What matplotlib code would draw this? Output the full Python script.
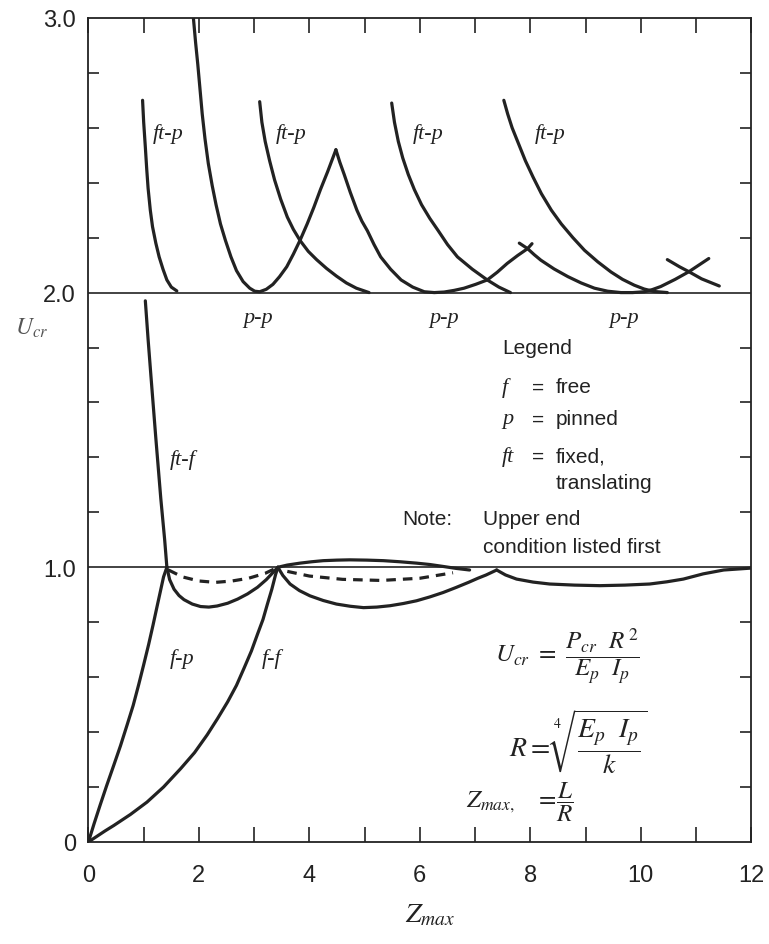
import matplotlib
matplotlib.use("Agg")
import matplotlib.pyplot as plt
from matplotlib.ticker import MultipleLocator, FixedLocator, FixedFormatter

plt.rcParams['mathtext.fontset'] = 'stix'

# ---- upper family (U between 2 and 3) ----
ftp1_z = [0.98, 1.00, 1.03, 1.055, 1.08, 1.12, 1.16, 1.22, 1.28, 1.35, 1.42, 1.50, 1.60]
ftp1_u = [2.70, 2.62, 2.53, 2.45, 2.38, 2.30, 2.24, 2.18, 2.13, 2.085, 2.046, 2.02, 2.006]

pp1_z = [1.90, 1.94, 1.98, 2.02, 2.06, 2.11, 2.17, 2.24, 2.31, 2.39, 2.48, 2.58, 2.68, 2.80,
         2.92, 3.01, 3.10, 3.22, 3.34, 3.46, 3.59, 3.71, 3.83, 3.96, 4.08, 4.20, 4.33, 4.48]
pp1_u = [3.00, 2.91, 2.83, 2.74, 2.65, 2.56, 2.47, 2.39, 2.32, 2.25, 2.19, 2.13, 2.08, 2.04,
         2.016, 2.005, 2.003, 2.012, 2.03, 2.058, 2.094, 2.14, 2.19, 2.25, 2.31, 2.375, 2.44, 2.52]

ftp2_z = [3.10, 3.14, 3.20, 3.28, 3.37, 3.48, 3.60, 3.71, 3.83, 3.98, 4.13, 4.31, 4.49, 4.67, 4.85, 5.08]
ftp2_u = [2.695, 2.62, 2.55, 2.48, 2.41, 2.34, 2.275, 2.23, 2.19, 2.15, 2.12, 2.088, 2.06, 2.035, 2.016, 2.0]

pp2_z = [4.48, 4.55, 4.63, 4.74, 4.86, 4.95, 5.05, 5.17, 5.29, 5.47, 5.66, 5.87, 6.08, 6.26,
         6.44, 6.62, 6.80, 7.01, 7.22, 7.40, 7.58, 7.77, 7.95, 8.03]
pp2_u = [2.52, 2.475, 2.43, 2.365, 2.30, 2.26, 2.225, 2.175, 2.13, 2.085, 2.046, 2.02, 2.003, 2.0,
         2.002, 2.008, 2.016, 2.03, 2.046, 2.074, 2.106, 2.135, 2.16, 2.178]

ftp3_z = [5.49, 5.54, 5.61, 5.69, 5.79, 5.90, 6.03, 6.18, 6.33, 6.50, 6.68, 6.95, 7.22, 7.43, 7.64]
ftp3_u = [2.69, 2.62, 2.55, 2.49, 2.43, 2.375, 2.32, 2.27, 2.226, 2.175, 2.13, 2.085, 2.046, 2.02, 2.0]

pp3_z = [7.80, 7.95, 8.07, 8.19, 8.43, 8.68, 8.92, 9.16, 9.40, 9.64, 9.85, 10.06, 10.21, 10.36,
         10.62, 10.87, 11.05, 11.23]
pp3_u = [2.18, 2.16, 2.138, 2.118, 2.086, 2.058, 2.035, 2.016, 2.005, 2.0, 2.0, 2.003, 2.011, 2.022,
         2.048, 2.076, 2.10, 2.124]

pp4_z = [10.48, 10.70, 10.87, 11.10, 11.42]
pp4_u = [2.12, 2.094, 2.076, 2.05, 2.024]

ftp4_z = [7.52, 7.59, 7.67, 7.79, 7.91, 8.05, 8.20, 8.38, 8.56, 8.77, 8.98, 9.22, 9.46, 9.67,
          9.88, 10.06, 10.24, 10.48]
ftp4_u = [2.70, 2.65, 2.60, 2.54, 2.48, 2.42, 2.36, 2.30, 2.25, 2.20, 2.154, 2.112, 2.075, 2.048,
          2.027, 2.013, 2.004, 2.0]

# ---- lower family (U between 0 and 2) ----
ftf_z = [1.03, 1.08, 1.13, 1.22, 1.31, 1.38, 1.42]
ftf_u = [1.97, 1.83, 1.70, 1.47, 1.25, 1.10, 1.0]

fp_z = [0, 0.10, 0.21, 0.33, 0.46, 0.58, 0.70, 0.81, 0.91, 1.00, 1.09, 1.17, 1.24, 1.30, 1.36, 1.42]
fp_u = [0, 0.065, 0.133, 0.205, 0.28, 0.35, 0.426, 0.497, 0.573, 0.645, 0.719, 0.79, 0.855, 0.91, 0.965, 1.0]

ff_z = [0, 0.15, 0.30, 0.46, 0.76, 1.06, 1.36, 1.67, 1.92, 2.15, 2.34, 2.52, 2.68, 2.82, 2.95,
        3.06, 3.16, 3.24, 3.32, 3.39, 3.43]
ff_u = [0, 0.02, 0.04, 0.06, 0.10, 0.145, 0.20, 0.267, 0.325, 0.39, 0.45, 0.51, 0.57, 0.634, 0.695,
        0.756, 0.81, 0.866, 0.92, 0.975, 1.0]

dip1_z = [1.42, 1.47, 1.55, 1.64, 1.73, 1.88, 2.03, 2.18, 2.33, 2.52, 2.70, 2.88, 3.06, 3.22, 3.36, 3.43]
dip1_u = [1.0, 0.955, 0.92, 0.897, 0.882, 0.866, 0.857, 0.855, 0.859, 0.869, 0.884, 0.903, 0.927,
          0.955, 0.985, 1.0]

dash1_z = [1.45, 1.7, 2.0, 2.3, 2.6, 2.9, 3.2, 3.43]
dash1_u = [0.99, 0.965, 0.950, 0.945, 0.950, 0.960, 0.978, 1.0]

bump_z = [3.43, 3.60, 3.83, 4.04, 4.25, 4.50, 4.73, 5.04, 5.34, 5.64, 5.94, 6.18, 6.42, 6.65, 6.90]
bump_u = [1.0, 1.008, 1.015, 1.02, 1.024, 1.026, 1.027, 1.026, 1.024, 1.02, 1.015, 1.01, 1.003, 0.996, 0.99]

dip2_z = [3.43, 3.52, 3.65, 3.82, 4.01, 4.25, 4.49, 4.74, 4.98, 5.22, 5.46, 5.70, 5.94, 6.18,
          6.42, 6.65, 6.88, 7.05, 7.20, 7.39]
dip2_u = [1.0, 0.97, 0.939, 0.915, 0.896, 0.879, 0.866, 0.858, 0.853, 0.855, 0.86, 0.868, 0.878,
          0.892, 0.908, 0.926, 0.945, 0.96, 0.972, 0.99]

dash2_z = [3.6, 4.0, 4.6, 5.3, 6.0, 6.6]
dash2_u = [0.985, 0.968, 0.956, 0.952, 0.96, 0.98]

dip3_z = [7.39, 7.55, 7.75, 8.05, 8.35, 8.80, 9.26, 9.71, 10.16, 10.47, 10.77, 11.13, 11.5, 12.0]
dip3_u = [0.99, 0.972, 0.957, 0.946, 0.939, 0.935, 0.933, 0.935, 0.939, 0.947, 0.957, 0.976, 0.99, 0.997]

xtick_vals = [0, 2, 4, 6, 8, 10, 12]
ytick_vals = [0, 1, 2, 3]
ytick_labels = ['0', '1.0', '2.0', '3.0']

ink = '#222222'
lw = 2.3

fig = plt.figure(figsize=(7.69, 9.45), dpi=100)
ax = fig.add_axes([0.115, 0.108, 0.862, 0.872])

solid = [(ftp1_z, ftp1_u), (pp1_z, pp1_u), (ftp2_z, ftp2_u), (pp2_z, pp2_u),
         (ftp3_z, ftp3_u), (pp3_z, pp3_u), (pp4_z, pp4_u), (ftp4_z, ftp4_u),
         (ftf_z, ftf_u), (fp_z, fp_u), (ff_z, ff_u), (dip1_z, dip1_u),
         (bump_z, bump_u), (dip2_z, dip2_u), (dip3_z, dip3_u)]
for zz, uu in solid:
    ax.plot(zz, uu, color=ink, lw=lw, solid_capstyle='round', solid_joinstyle='round')
for zz, uu in [(dash1_z, dash1_u), (dash2_z, dash2_u)]:
    ax.plot(zz, uu, color=ink, lw=lw, ls=(0, (3, 2.2)))

ax.axhline(1.0, color=ink, lw=1.2)
ax.axhline(2.0, color=ink, lw=1.2)

ax.set_xlim(0, 12)
ax.set_ylim(0, 3)
for s in ax.spines.values():
    s.set_linewidth(1.3)
    s.set_color(ink)

ax.xaxis.set_major_locator(FixedLocator(xtick_vals))
ax.xaxis.set_minor_locator(MultipleLocator(1))
ax.yaxis.set_major_locator(FixedLocator(ytick_vals))
ax.yaxis.set_major_formatter(FixedFormatter(ytick_labels))
ax.yaxis.set_minor_locator(MultipleLocator(0.2))
ax.tick_params(which='both', direction='in', top=True, right=True, color=ink)
ax.tick_params(axis='x', which='both', length=11, width=1.2)
ax.tick_params(axis='y', which='major', length=0)
ax.tick_params(axis='y', which='minor', length=8, width=1.2)
ax.tick_params(axis='x', which='major', pad=16)
ax.tick_params(axis='y', which='major', pad=9)
for lab in ax.get_xticklabels() + ax.get_yticklabels():
    lab.set_fontfamily('Liberation Sans')
    lab.set_fontsize(17)
    lab.set_color(ink)

ax.set_xlabel(r'$Z_{max}$', fontsize=20, color=ink)
ax.xaxis.set_label_coords(0.515, -0.07)
ax.set_ylabel(r'$U_{cr}$', fontsize=17, color='#555555', rotation=0)
ax.yaxis.set_label_coords(-0.085, 0.61)

serif_it = dict(family='Liberation Serif', style='italic', fontsize=16, color=ink)
for zx in [1.17, 3.39, 5.88, 8.08]:
    ax.text(zx, 2.58, 'ft-p', ha='left', va='center', **serif_it)
for zx in [3.07, 6.43, 9.70]:
    ax.text(zx, 1.91, 'p-p', ha='center', va='center', **serif_it)
ax.text(1.48, 1.395, 'ft-f', ha='left', va='center', **serif_it)
ax.text(1.48, 0.67, 'f-p', ha='left', va='center', **serif_it)
ax.text(3.14, 0.67, 'f-f', ha='left', va='center', **serif_it)

sans = dict(family='Liberation Sans', fontsize=15, color=ink, va='center', ha='left')
ax.text(7.49, 1.80, 'Legend', **sans)
for sym, word, uy in [('f', 'free', 1.657), ('p', 'pinned', 1.54), ('ft', 'fixed,', 1.405)]:
    ax.text(7.49, uy, sym, ha='left', va='center', **serif_it)
    ax.text(8.03, uy, '=', **sans)
    ax.text(8.46, uy, word, **sans)
ax.text(8.46, 1.31, 'translating', **sans)
ax.text(5.68, 1.176, 'Note:', **sans)
ax.text(7.14, 1.176, 'Upper end', **sans)
ax.text(7.14, 1.074, 'condition listed first', **sans)

ax.text(7.36, 0.68, r'$U_{cr}\ =\ \dfrac{P_{cr}\ \ R^{\,2}}{E_p\ \ I_p}$',
        ha='left', va='center', fontsize=18, color=ink)
ax.text(7.62, 0.37, r'$R = \sqrt[4]{\dfrac{E_p\ \ I_p}{k}}$',
        ha='left', va='center', fontsize=20, color=ink)
ax.text(6.84, 0.15, r'$Z_{max,}\quad =\!\dfrac{L}{R}$',
        ha='left', va='center', fontsize=18, color=ink)

fig.savefig('out.png', dpi=100)
